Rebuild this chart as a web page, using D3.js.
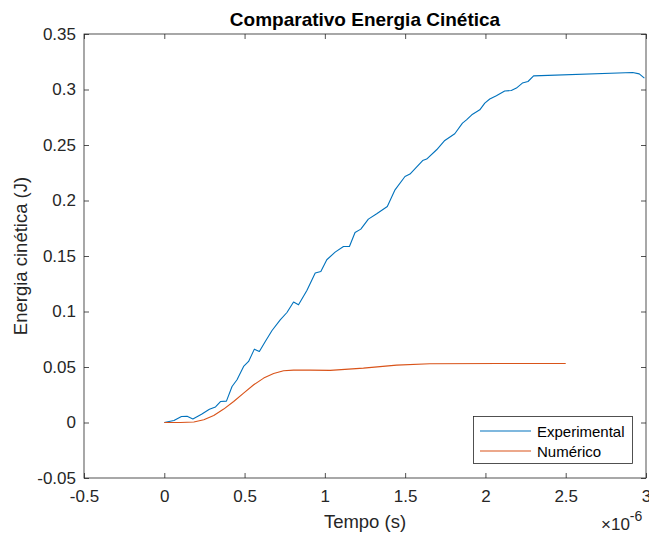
<!DOCTYPE html>
<html>
<head>
<meta charset="utf-8">
<script src="https://cdn.jsdelivr.net/npm/d3@7/dist/d3.min.js"></script>
<style>
  html, body { margin: 0; padding: 0; background: #fff; }
  svg { display: block; font-family: "Liberation Sans", Arial, Helvetica, sans-serif; }
</style>
</head>
<body>
<svg id="chart" width="649" height="536"></svg>
<script>
// Time in microseconds (axis shows ×10^-6 s), energy in joules
const expTime = [0, 0.060, 0.107, 0.142, 0.178, 0.232, 0.281, 0.319, 0.350, 0.387, 0.422, 0.453, 0.494, 0.525,
  0.561, 0.592, 0.629, 0.671, 0.722, 0.764, 0.805, 0.836, 0.888, 0.940, 0.975, 1.012, 1.064, 1.116, 1.153,
  1.188, 1.224, 1.271, 1.323, 1.389, 1.437, 1.499, 1.530, 1.609, 1.634, 1.696, 1.747, 1.809, 1.857, 1.882,
  1.915, 1.965, 1.996, 2.027, 2.068, 2.120, 2.161, 2.193, 2.230, 2.265, 2.300, 2.917, 2.958, 2.990];
const expEnergy = [0, 0.0018, 0.0054, 0.0056, 0.0032, 0.0074, 0.0119, 0.0140, 0.0189, 0.0193, 0.0324, 0.0385,
  0.0505, 0.0550, 0.0661, 0.0640, 0.0730, 0.0829, 0.0925, 0.0991, 0.1085, 0.1060, 0.1189, 0.1346, 0.1360,
  0.1466, 0.1535, 0.1586, 0.1586, 0.1712, 0.1742, 0.1832, 0.1880, 0.1946, 0.2096, 0.2216, 0.2238, 0.2360,
  0.2373, 0.2457, 0.2541, 0.2601, 0.2697, 0.2727, 0.2772, 0.2817, 0.2877, 0.2914, 0.2943, 0.2986, 0.2991,
  0.3013, 0.3058, 0.3072, 0.3123, 0.3153, 0.3141, 0.3103];

const numTime = [0, 0.10, 0.184, 0.246, 0.308, 0.370, 0.432, 0.494, 0.557, 0.619, 0.681, 0.743, 0.805, 0.909,
  1.033, 1.240, 1.447, 1.654, 2.09, 2.50];
const numEnergy = [0, 0, 0.0004, 0.0024, 0.0063, 0.0121, 0.0189, 0.0265, 0.0340, 0.0400, 0.0441, 0.0466,
  0.0472, 0.0472, 0.0470, 0.0490, 0.0517, 0.0529, 0.0531, 0.0532];

const xTicks = [-0.5, 0, 0.5, 1, 1.5, 2, 2.5, 3];
const yTicks = [-0.05, 0, 0.05, 0.1, 0.15, 0.2, 0.25, 0.3, 0.35];
const seriesNames = ["Experimental", "Numérico"];
const seriesColors = ["#0072BD", "#D95319"];

const svg = d3.select("#chart");
const box = { left: 84, right: 646, top: 34, bottom: 478 };
const axisColor = "#262626";

const x = d3.scaleLinear().domain([-0.5, 3]).range([box.left, box.right]);
const y = d3.scaleLinear().domain([-0.05, 0.35]).range([box.bottom, box.top]);

const fmt = d => String(+d.toFixed(2));

// Data lines, clipped to the axes box
svg.append("clipPath").attr("id", "plotclip")
  .append("rect").attr("x", box.left).attr("y", box.top)
  .attr("width", box.right - box.left).attr("height", box.bottom - box.top);

const line = d3.line().x(d => x(d[0])).y(d => y(d[1]));
const series = [
  d3.zip(expTime, expEnergy),
  d3.zip(numTime, numEnergy)
];
const plot = svg.append("g").attr("clip-path", "url(#plotclip)");
series.forEach((s, i) => {
  plot.append("path").datum(s)
    .attr("d", line)
    .attr("fill", "none")
    .attr("stroke", seriesColors[i])
    .attr("stroke-width", 1.1)
    .attr("stroke-linejoin", "round");
});

// Axes: ticks pointing inward, box on all four sides
function styleAxis(g) {
  g.selectAll(".domain").remove();
  g.selectAll(".tick line").attr("stroke", axisColor).attr("stroke-width", 0.8);
  g.selectAll(".tick text").attr("fill", axisColor).attr("font-size", 17)
    .attr("font-family", '"Liberation Sans", Arial, sans-serif');
}

svg.append("g").attr("transform", `translate(0,${box.bottom})`)
  .call(d3.axisBottom(x).tickValues(xTicks).tickFormat(fmt).tickSizeInner(-5).tickPadding(12))
  .call(styleAxis);
svg.append("g").attr("transform", `translate(0,${box.top})`)
  .call(d3.axisTop(x).tickValues(xTicks).tickFormat("").tickSizeInner(-5))
  .call(styleAxis);
svg.append("g").attr("transform", `translate(${box.left},0)`)
  .call(d3.axisLeft(y).tickValues(yTicks).tickFormat(fmt).tickSizeInner(-5).tickPadding(8))
  .call(styleAxis);
svg.append("g").attr("transform", `translate(${box.right},0)`)
  .call(d3.axisRight(y).tickValues(yTicks).tickFormat("").tickSizeInner(-5))
  .call(styleAxis);

svg.append("rect")
  .attr("x", box.left).attr("y", box.top)
  .attr("width", box.right - box.left).attr("height", box.bottom - box.top)
  .attr("fill", "none").attr("stroke", axisColor).attr("stroke-width", 0.8);

// Title and axis labels
svg.append("text").attr("x", (box.left + box.right) / 2).attr("y", 26)
  .attr("text-anchor", "middle").attr("font-size", 19).attr("font-weight", "bold").attr("fill", "#000")
  .text("Comparativo Energia Cinética");

svg.append("text").attr("x", (box.left + box.right) / 2).attr("y", 528)
  .attr("text-anchor", "middle").attr("font-size", 18.5).attr("fill", axisColor)
  .text("Tempo (s)");

svg.append("text")
  .attr("transform", `translate(26.5,${(box.top + box.bottom) / 2}) rotate(-90)`)
  .attr("text-anchor", "middle").attr("font-size", 18.5).attr("fill", axisColor)
  .text("Energia cinética (J)");

// Exponent marker for the time axis
const expo = svg.append("text").attr("x", 601).attr("y", 530).attr("font-size", 17).attr("fill", axisColor);
expo.append("tspan").text("×10");
expo.append("tspan").attr("dy", -9).attr("font-size", 14).text("-6");

// Legend
const lg = svg.append("g");
lg.append("rect").attr("x", 473.5).attr("y", 416.5).attr("width", 159).attr("height", 47)
  .attr("fill", "#fff").attr("stroke", axisColor).attr("stroke-width", 0.8);
seriesNames.forEach((name, i) => {
  const yy = 431 + i * 20;
  lg.append("line").attr("x1", 480).attr("x2", 531).attr("y1", yy).attr("y2", yy)
    .attr("stroke", seriesColors[i]).attr("stroke-width", 1.1);
  lg.append("text").attr("x", 537).attr("y", yy + 5.5).attr("font-size", 15).attr("fill", "#000").text(name);
});
</script>
</body>
</html>
